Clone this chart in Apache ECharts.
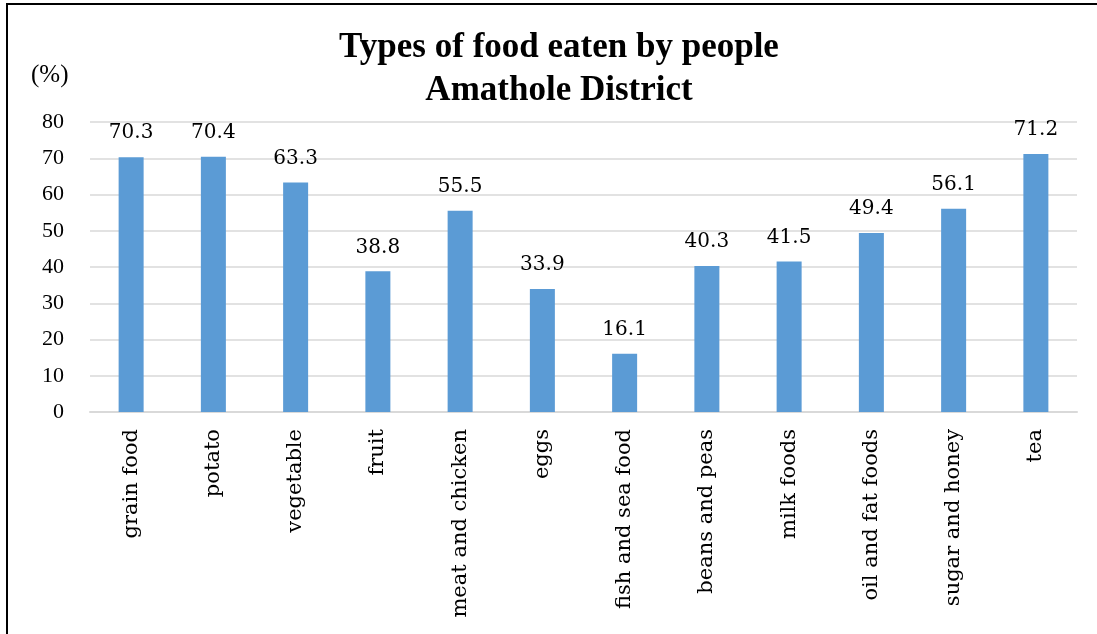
<!DOCTYPE html>
<html>
<head>
<meta charset="utf-8">
<style>
  html, body { margin: 0; padding: 0; background: #fff; }
  #chart { width: 1097px; height: 634px; }
</style>
<script src="https://cdn.jsdelivr.net/npm/echarts@6/dist/echarts.min.js"></script>
</head>
<body>
<div id="chart"></div>
<script>
// Share of people eating each type of food (%)
const categories = ['grain food', 'potato', 'vegetable', 'fruit', 'meat and chicken', 'eggs',
  'fish and sea food', 'beans and peas', 'milk foods', 'oil and fat foods', 'sugar and honey', 'tea'];
const shares = [70.3, 70.4, 63.3, 38.8, 55.5, 33.9, 16.1, 40.3, 41.5, 49.4, 56.1, 71.2];
const titleLines = ['Types of food eaten by people', 'Amathole District'];

const serif = '"Liberation Serif", "Times New Roman", serif';
const wideSerif = '"DejaVu Serif", "Liberation Serif", serif';

const chart = echarts.init(document.getElementById('chart'), null, { renderer: 'canvas' });
chart.setOption({
  backgroundColor: '#fff',
  animation: false,
  textStyle: { fontFamily: serif },
  graphic: [
    {
      type: 'rect',
      shape: { x: 7, y: 4, width: 1200, height: 800 },
      style: { fill: 'none', stroke: '#000', lineWidth: 2 },
      silent: true
    },
    {
      type: 'text',
      x: 559, y: 26,
      style: {
        text: titleLines.join('\n'),
        align: 'center',
        verticalAlign: 'top',
        font: 'bold 35px ' + serif,
        lineHeight: 43,
        fill: '#000'
      }
    },
    {
      type: 'text',
      left: 31, top: 63,
      style: { text: '(%)', font: '25px ' + serif, fill: '#000' }
    }
  ],
  grid: { left: 90, right: 20, top: 122, bottom: 222, containLabel: false },
  xAxis: {
    type: 'category',
    data: categories,
    axisLine: { lineStyle: { color: '#d9d9d9', width: 2 } },
    axisTick: { show: false },
    axisLabel: {
      rotate: 90,
      margin: 17,
      fontFamily: wideSerif,
      fontSize: 21,
      color: '#000',
      interval: 0
    }
  },
  yAxis: {
    type: 'value',
    min: 0, max: 80, interval: 10,
    axisLine: { show: false },
    axisTick: { show: false },
    splitLine: { lineStyle: { color: '#d9d9d9', width: 1.5 } },
    axisLabel: { fontFamily: serif, fontSize: 22, color: '#000', margin: 26 }
  },
  series: [{
    type: 'bar',
    data: shares,
    barWidth: 25,
    itemStyle: { color: '#5b9bd5' },
    label: {
      show: true,
      position: 'top',
      distance: 14,
      fontFamily: wideSerif,
      fontSize: 20,
      color: '#000',
      formatter: p => p.value.toFixed(1)
    }
  }]
});
</script>
</body>
</html>
